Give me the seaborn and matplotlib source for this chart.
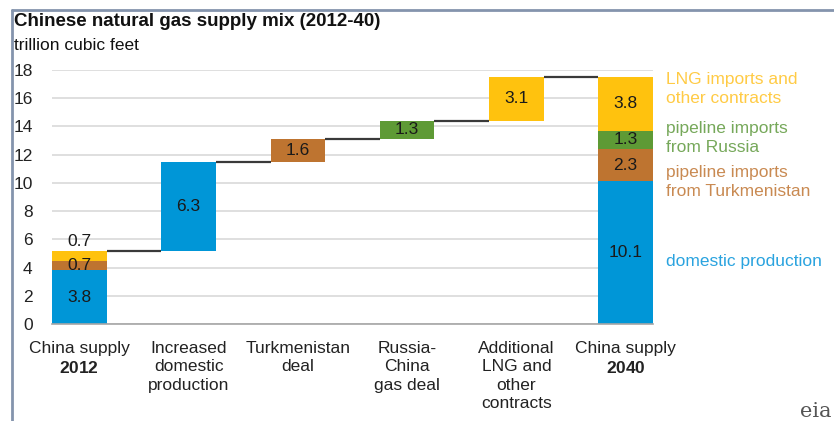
import matplotlib
matplotlib.use("Agg")
import matplotlib.pyplot as plt
from matplotlib.lines import Line2D
import seaborn as sns
import pandas as pd

# ---- data ----
categories = ["China supply 2012", "gap1", "Increased domestic production", "gap2",
              "Turkmenistan deal", "gap3", "Russia-China gas deal", "gap4",
              "Additional LNG and other contracts", "gap5", "China supply 2040"]
tick_labels = ["China supply\n$\\bf{2012}$", "Increased\ndomestic\nproduction",
               "Turkmenistan\ndeal", "Russia-\nChina\ngas deal",
               "Additional\nLNG and\nother\ncontracts", "China supply\n$\\bf{2040}$"]
label_cats = ["China supply 2012", "Increased domestic production", "Turkmenistan deal",
              "Russia-China gas deal", "Additional LNG and other contracts", "China supply 2040"]

seg_category = ["China supply 2012", "China supply 2012", "China supply 2012",
                "Increased domestic production", "Turkmenistan deal",
                "Russia-China gas deal", "Additional LNG and other contracts",
                "China supply 2040", "China supply 2040", "China supply 2040", "China supply 2040"]
seg_source = ["domestic", "turkmen", "lng",
              "domestic", "turkmen", "russia", "lng",
              "domestic", "turkmen", "russia", "lng"]
seg_value = [3.8, 0.7, 0.7, 6.3, 1.6, 1.3, 3.1, 10.1, 2.3, 1.3, 3.8]
seg_bottom = [0.0, 3.8, 4.5, 5.2, 11.5, 13.1, 14.4, 0.0, 10.1, 12.4, 13.7]

connector_levels = [5.2, 11.5, 13.1, 14.4, 17.5]

legend_labels = ["LNG imports and\nother contracts", "pipeline imports\nfrom Russia",
                 "pipeline imports\nfrom Turkmenistan", "domestic production"]
legend_sources = ["lng", "russia", "turkmen", "domestic"]
legend_y = [16.65, 13.2, 10.05, 4.4]

colors = {"domestic": "#0096D7", "turkmen": "#BE7430", "russia": "#5E9A35", "lng": "#FFC20E"}
text_colors = {"domestic": "#2AA3DF", "turkmen": "#C98A52", "russia": "#76A85A", "lng": "#FFCB45"}

df = pd.DataFrame({"category": seg_category, "source": seg_source,
                   "value": seg_value, "bottom": seg_bottom})

# ---- figure ----
sns.set_theme(style="white")
plt.rcParams["font.family"] = ["Liberation Sans", "DejaVu Sans"]
plt.rcParams["mathtext.fontset"] = "custom"
plt.rcParams["mathtext.rm"] = "Liberation Sans"
plt.rcParams["mathtext.bf"] = "Liberation Sans:bold"
fig = plt.figure(figsize=(8.34, 4.21), dpi=100)
ax = fig.add_axes([52 / 834, 1 - 324 / 421, (653 - 52) / 834, (324 - 70) / 421])

for _, row in df.iterrows():
    sns.barplot(x=[row["category"]], y=[row["value"]], order=categories,
                color=colors[row["source"]], width=1.0, errorbar=None,
                bottom=row["bottom"], saturation=1, linewidth=0, ax=ax)

pos = {c: i for i, c in enumerate(categories)}

# value labels
for _, row in df.iterrows():
    x = pos[row["category"]]
    if row["category"] == "China supply 2012" and row["source"] == "lng":
        y = row["bottom"] + row["value"] + 0.65
    else:
        y = row["bottom"] + row["value"] / 2
    ax.text(x, y, f"{row['value']:.1f}", ha="center", va="center",
            fontsize=12.5, color="#1a1a1a", zorder=5)

# connectors
bar_idx = [pos[c] for c in label_cats]
for lvl, i0 in zip(connector_levels, bar_idx[:-1]):
    ax.hlines(lvl, i0 + 0.5, i0 + 1.5, color="#3a3a3a", lw=1.6, zorder=4)

ax.set_xlim(-0.5, len(categories) - 0.5)
ax.set_ylim(0, 18)
ax.set_yticks(range(0, 19, 2))
ax.set_yticklabels([str(v) for v in range(0, 19, 2)], fontsize=12.5, color="#222222")
ax.tick_params(axis="y", length=0, pad=14)
ax.yaxis.grid(True, color="#d9d9d9", lw=1.2)
ax.set_axisbelow(True)

# ticks at category boundaries, labels at bar centres
ax.set_xticks([i - 0.5 for i in range(len(categories) + 1)])
ax.set_xticklabels([])
ax.tick_params(axis="x", which="major", length=5, width=1, color="#a6a6a6", direction="out")
ax.set_xticks([pos[c] for c in label_cats], minor=True)
ax.set_xticklabels(tick_labels, minor=True, fontsize=12.5, color="#222222",
                   linespacing=1.3, va="top")
ax.tick_params(axis="x", which="minor", length=0, pad=12)
ax.set_xlabel("")
ax.set_ylabel("")

for s in ["top", "right", "left"]:
    ax.spines[s].set_visible(False)
ax.spines["bottom"].set_color("#a6a6a6")
ax.spines["bottom"].set_linewidth(1.2)

# right-hand legend text
for lab, src, y in zip(legend_labels, legend_sources, legend_y):
    ax.text(10.74, y, lab, ha="left", va="center", fontsize=12.5,
            color=text_colors[src], linespacing=1.35, clip_on=False)

# titles
fig.text(14 / 834, 1 - 26 / 421, "Chinese natural gas supply mix (2012-40)",
         fontsize=13.5, fontweight="bold", color="#111111", va="baseline")
fig.text(14 / 834, 1 - 50 / 421, "trillion cubic feet", fontsize=12.5,
         color="#111111", va="baseline")

# frame border
fig.add_artist(Line2D([12 / 834, 12 / 834], [0, 1 - 10 / 421], transform=fig.transFigure,
                      color="#8494ad", lw=2))
fig.add_artist(Line2D([12 / 834, 1], [1 - 10 / 421, 1 - 10 / 421], transform=fig.transFigure,
                      color="#8494ad", lw=2))

# eia mark
fig.text(800 / 834, 1 - 417 / 421, "eia", fontsize=15, family="DejaVu Serif",
         color="#555555", va="baseline")

fig.savefig("out.png", dpi=100)
